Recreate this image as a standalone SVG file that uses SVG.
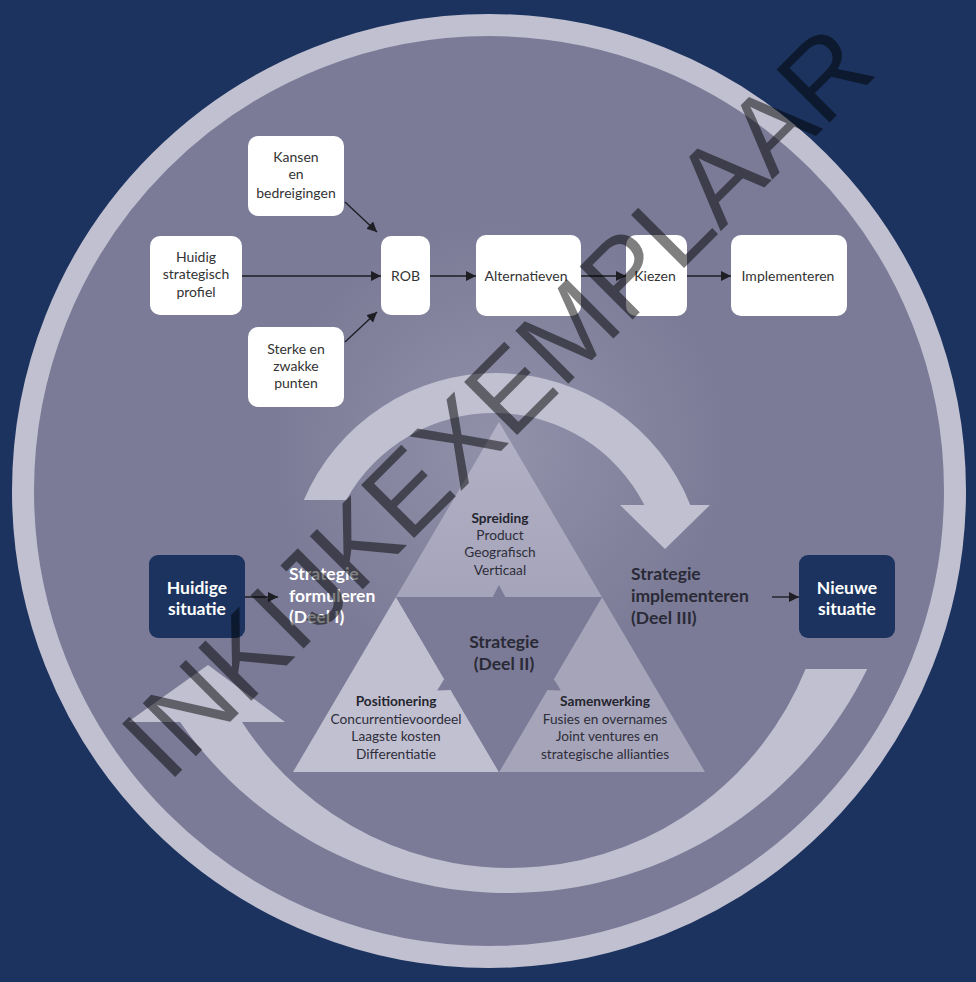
<svg xmlns="http://www.w3.org/2000/svg" width="976" height="982" viewBox="0 0 976 982">
<defs>
<style>
.box{fill:#ffffff}
.dark{fill:#1b335e}
.t{font-family:Lato,"Liberation Sans",sans-serif;font-size:14px;fill:#333333;text-anchor:middle}
.tt{font-family:Lato,"Liberation Sans",sans-serif;font-size:13.7px;fill:#2e2e3a;text-anchor:middle}
.tb{font-weight:bold;fill:#25252f}
.big{font-family:Lato,"Liberation Sans",sans-serif;font-size:17.5px;font-weight:bold}
.conn{stroke:#1e1e24;stroke-width:1.4;fill:none}
.wm{font-family:"Liberation Sans",Arial,sans-serif;font-size:109px;fill:#000000;fill-opacity:0.5}
</style>
<radialGradient id="glow" cx="500" cy="450" r="230" gradientUnits="userSpaceOnUse">
<stop offset="0" stop-color="#9291aa"/>
<stop offset="1" stop-color="#7b7b97"/>
</radialGradient>
<linearGradient id="topTri" x1="0" y1="422" x2="0" y2="597" gradientUnits="userSpaceOnUse">
<stop offset="0" stop-color="#b2b1c5"/>
<stop offset="1" stop-color="#a5a4ba"/>
</linearGradient>
<marker id="ah" viewBox="0 0 10 10" refX="10" refY="5" markerWidth="10" markerHeight="10" markerUnits="userSpaceOnUse" orient="auto">
<path d="M0,0 L10,5 L0,10 z" fill="#1e1e24"/>
</marker>
</defs>

<rect x="0" y="0" width="976" height="982" fill="#1b335e"/>

<g id="disc">
<circle cx="489" cy="491" r="466" fill="url(#glow)" stroke="#c1c0d1" stroke-width="22"/>
</g>

<g id="cycle-arrows" fill="#c1c0d1">
<path id="arrow-top" d="M303.8,500 A209,209 0 0 1 690.3,505 L710,505 L665,549 L620,505 L644.4,505 A169,169 0 0 0 346.2,500 Z"/>
<path id="arrow-bottom" d="M867.2,669 A400,400 0 0 1 180,722 L128,722 L208,665 L285,722 L242,722 A319,319 0 0 0 805.6,669 Z"/>
</g>

<g id="triangle">
<polygon id="tri-top" points="499,422 602,597 396,597" fill="url(#topTri)"/>
<polygon id="tri-left" points="396,597 499,772 293,772" fill="#c1c0d1"/>
<polygon id="tri-right" points="602,597 705,772 499,772" fill="#a5a4b9"/>
<polygon id="tri-center" points="396,597 602,597 499,772" fill="#7b7a97"/>
<polygon points="492.5,597.5 505.5,597.5 499,585" fill="#7b7a97"/>
<polygon points="444.2,678.9 450.8,690.1 437.2,690.6" fill="#7b7a97"/>
<polygon points="553.8,678.9 547.2,690.1 560.8,690.6" fill="#7b7a97"/>
</g>

<g id="node-kansen">
<rect class="box" x="248" y="136" width="96" height="80" rx="10"/>
<text class="t" x="296" y="161.5">Kansen</text>
<text class="t" x="296" y="179">en</text>
<text class="t" x="296" y="197.5">bedreigingen</text>
</g>
<g id="node-huidig-profiel">
<rect class="box" x="150" y="236" width="92" height="79" rx="10"/>
<text class="t" x="196" y="262">Huidig</text>
<text class="t" x="196" y="279">strategisch</text>
<text class="t" x="196" y="297">profiel</text>
</g>
<g id="node-sterke">
<rect class="box" x="248" y="327" width="96" height="80" rx="10"/>
<text class="t" x="296" y="354">Sterke en</text>
<text class="t" x="296" y="371">zwakke</text>
<text class="t" x="296" y="388">punten</text>
</g>
<g id="node-rob">
<rect class="box" x="381" y="236" width="49" height="79" rx="10"/>
<text class="t" x="405.5" y="281">ROB</text>
</g>
<g id="node-alternatieven">
<rect class="box" x="476" y="235" width="105" height="81" rx="10"/>
<text class="t" x="526" y="280.5">Alternatieven</text>
</g>
<g id="node-kiezen">
<rect class="box" x="626" y="235" width="61" height="81" rx="10"/>
<text class="t" x="655" y="280.5">Kiezen</text>
</g>
<g id="node-implementeren">
<rect class="box" x="731" y="235" width="116" height="81" rx="10"/>
<text class="t" x="788" y="280.5">Implementeren</text>
</g>

<g id="node-huidige-situatie">
<rect class="dark" x="149" y="555" width="96" height="83" rx="9"/>
<text class="big" x="197" y="594" fill="#ffffff" text-anchor="middle">Huidige</text>
<text class="big" x="197" y="615" fill="#ffffff" text-anchor="middle">situatie</text>
</g>
<g id="node-nieuwe-situatie">
<rect class="dark" x="799" y="555" width="96" height="83" rx="9"/>
<text class="big" x="847" y="594" fill="#ffffff" text-anchor="middle">Nieuwe</text>
<text class="big" x="847" y="615" fill="#ffffff" text-anchor="middle">situatie</text>
</g>
<g id="label-formuleren">
<text class="big" x="289" y="580" fill="#ffffff">Strategie</text>
<text class="big" x="289" y="601.5" fill="#ffffff">formuleren</text>
<text class="big" x="289" y="623" fill="#ffffff">(Deel I)</text>
</g>
<g id="label-implementeren">
<text class="big" x="631" y="580" fill="#2a2a36">Strategie</text>
<text class="big" x="631" y="602" fill="#2a2a36">implementeren</text>
<text class="big" x="631" y="624" fill="#2a2a36">(Deel III)</text>
</g>

<g id="node-spreiding">
<text class="tt tb" x="500" y="522.5">Spreiding</text>
<text class="tt" x="500" y="539.5">Product</text>
<text class="tt" x="500" y="557">Geografisch</text>
<text class="tt" x="500" y="574.5">Verticaal</text>
</g>
<g id="node-strategie">
<text class="big" x="504" y="648" fill="#2a2a36" text-anchor="middle">Strategie</text>
<text class="big" x="504" y="670" fill="#2a2a36" text-anchor="middle">(Deel II)</text>
</g>
<g id="node-positionering">
<text class="tt tb" x="396" y="705.5">Positionering</text>
<text class="tt" x="396" y="723.5">Concurrentievoordeel</text>
<text class="tt" x="396" y="741">Laagste kosten</text>
<text class="tt" x="396" y="758.5">Differentiatie</text>
</g>
<g id="node-samenwerking">
<text class="tt tb" x="605" y="705.5">Samenwerking</text>
<text class="tt" x="605" y="723.5">Fusies en overnames</text>
<text class="tt" x="607" y="741">Joint ventures en</text>
<text class="tt" x="605" y="758.5">strategische allianties</text>
</g>

<g id="connectors">
<line class="conn" x1="242" y1="276" x2="381" y2="276" marker-end="url(#ah)"/>
<line class="conn" x1="345" y1="202" x2="377" y2="232" marker-end="url(#ah)"/>
<line class="conn" x1="345" y1="342" x2="377" y2="312" marker-end="url(#ah)"/>
<line class="conn" x1="430" y1="276" x2="476" y2="276" marker-end="url(#ah)"/>
<line class="conn" x1="581" y1="276" x2="626" y2="276" marker-end="url(#ah)"/>
<line class="conn" x1="687" y1="276" x2="731" y2="276" marker-end="url(#ah)"/>
<line class="conn" x1="245" y1="597" x2="278" y2="597" marker-end="url(#ah)"/>
<line class="conn" x1="772" y1="597" x2="799" y2="597" marker-end="url(#ah)"/>
</g>

<text class="wm" transform="translate(168,784) rotate(-45)">INKIJKEXEMPLAAR</text>
</svg>
